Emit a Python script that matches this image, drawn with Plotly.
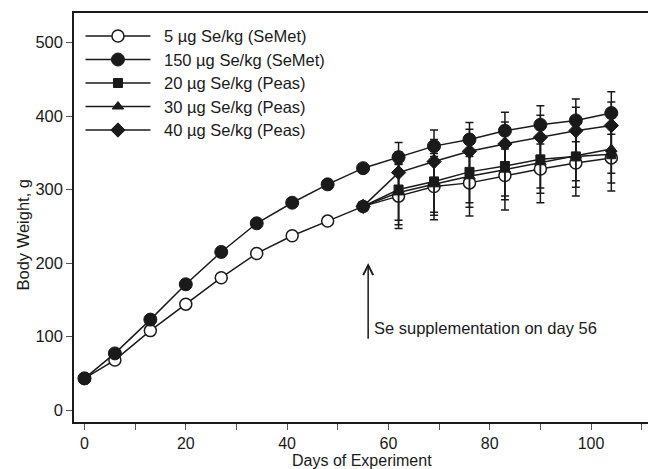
import plotly.graph_objects as go

# ---------------- data ----------------
days_pre = [0, 6, 13, 20, 27, 34, 41, 48, 55]
days_post = [62, 69, 76, 83, 90, 97, 104]
days_peas = [55] + days_post

semet5_pre = [43, 68, 108, 144, 180, 213, 237, 257, 277]
semet5_post = [291, 304, 309, 319, 328, 336, 343]
semet5_sd = [44, 45, 45, 47, 46, 45, 45]

semet150_pre = [43, 77, 123, 171, 215, 254, 282, 307, 329]
semet150_post = [344, 359, 368, 380, 388, 394, 404]
semet150_sd = [20, 22, 23, 25, 26, 29, 29]

peas20 = [277, 300, 311, 324, 332, 341, 345, 348]
peas20_sd = [0, 48, 46, 48, 46, 46, 42, 39]

peas30 = [277, 296, 307, 318, 327, 337, 346, 355]
peas30_sd = [0, 38, 38, 36, 36, 35, 34, 33]

peas40 = [277, 323, 338, 352, 362, 371, 380, 387]
peas40_sd = [0, 28, 30, 30, 30, 30, 32, 32]

names = ["5 µg Se/kg (SeMet)", "150 µg Se/kg (SeMet)", "20 µg Se/kg (Peas)",
         "30 µg Se/kg (Peas)", "40 µg Se/kg (Peas)"]

x_ticks = [0, 10, 20, 30, 40, 50, 60, 70, 80, 90, 100, 110]
x_ticktext = ["0", "", "20", "", "40", "", "60", "", "80", "", "100", ""]
y_ticks = [0, 100, 200, 300, 400, 500]

arrow_day = 56
arrow_from, arrow_to = 95, 200
note = "Se supplementation on day 56"

# ---------------- layout constants ----------------
W, H = 648, 469
L, R, T, B = 73.5, 648, 13, 422
FONT = "Liberation Sans, Arial, sans-serif"
FS = 16.5
INK = "#1a1a1a"

fig = go.Figure()

def err(sd):
    return dict(type="data", array=sd, visible=True, color=INK, thickness=1.5, width=4)

line = dict(color=INK, width=1.5)

semet5_all = semet5_pre + semet5_post
semet5_err = [0] * len(semet5_pre) + semet5_sd
semet150_all = semet150_pre + semet150_post
semet150_err = [0] * len(semet150_pre) + semet150_sd
days_all = days_pre + days_post

markers = {
    0: dict(symbol="circle", size=12, color="white", line=dict(color=INK, width=1.5)),
    1: dict(symbol="circle", size=13, color=INK, line=dict(color=INK, width=1)),
    2: dict(symbol="square", size=9, color=INK, line=dict(color=INK, width=1)),
    3: dict(symbol="triangle-up", size=10, color=INK, line=dict(color=INK, width=1)),
    4: dict(symbol="diamond", size=11, color=INK, line=dict(color=INK, width=1)),
}

fig.add_trace(go.Scatter(x=days_all, y=semet5_all, mode="lines+markers", name=names[0],
                         line=line, marker=markers[0], error_y=err(semet5_err), showlegend=False))
fig.add_trace(go.Scatter(x=days_peas, y=peas20, mode="lines+markers", name=names[2],
                         line=line, marker=markers[2], error_y=err(peas20_sd), showlegend=False))
fig.add_trace(go.Scatter(x=days_peas, y=peas30, mode="lines+markers", name=names[3],
                         line=line, marker=markers[3], error_y=err(peas30_sd), showlegend=False))
fig.add_trace(go.Scatter(x=days_peas, y=peas40, mode="lines+markers", name=names[4],
                         line=line, marker=markers[4], error_y=err(peas40_sd), showlegend=False))
fig.add_trace(go.Scatter(x=days_all, y=semet150_all, mode="lines+markers", name=names[1],
                         line=line, marker=markers[1], error_y=err(semet150_err), showlegend=False))

# ---------------- custom legend (overlay axes in pixel units) ----------------
pw, ph = R - L, B - T
rows_py = [36, 59.5, 83, 106.5, 130]
lx0, lx1, lmx, ltx = 85, 150, 117.5, 162
for i, py in enumerate(rows_py):
    yy = B - py
    fig.add_trace(go.Scatter(x=[lx0 - L, lx1 - L], y=[yy, yy], mode="lines", line=line,
                             xaxis="x2", yaxis="y2", showlegend=False, hoverinfo="skip"))
    fig.add_trace(go.Scatter(x=[lmx - L], y=[yy], mode="markers", marker=markers[i],
                             xaxis="x2", yaxis="y2", showlegend=False, hoverinfo="skip"))
    fig.add_annotation(x=ltx - L, y=yy, xref="x2", yref="y2", text=names[i], showarrow=False,
                       xanchor="left", yanchor="middle", font=dict(family=FONT, size=FS, color=INK))

# arrow + note
fig.add_annotation(x=arrow_day, y=arrow_to, ax=arrow_day, ay=arrow_from, xref="x", yref="y",
                   axref="x", ayref="y", text="", showarrow=True, arrowhead=5, arrowsize=1.3,
                   arrowwidth=1.5, arrowcolor=INK)
fig.add_annotation(x=arrow_day + 0.8, y=112, xref="x", yref="y", text=note, showarrow=False,
                   xanchor="left", yanchor="middle", font=dict(family=FONT, size=FS, color=INK))

# y title (paper coords are relative to the plot area)
fig.add_annotation(x=(22 - L) / pw, y=(B - 235) / ph, xref="paper", yref="paper",
                   text="Body Weight, g", textangle=-90, showarrow=False,
                   xanchor="center", yanchor="middle",
                   font=dict(family=FONT, size=FS, color=INK))
# x title
fig.add_annotation(x=(362 - L) / pw, y=-(460 - B) / ph, xref="paper", yref="paper",
                   text="Days of Experiment", showarrow=False,
                   xanchor="center", yanchor="middle",
                   font=dict(family=FONT, size=16, color=INK))

x_range = [(L - 84) / 5.07, (R - 84) / 5.07]
y_range = [-(B - 410) / 0.735, (410 - T) / 0.735]

fig.update_layout(
    width=W, height=H,
    margin=dict(l=L, r=W - R, t=T, b=H - B, pad=0),
    paper_bgcolor="white", plot_bgcolor="white",
    font=dict(family=FONT, size=FS, color=INK),
    xaxis=dict(range=x_range, tickvals=x_ticks, ticktext=x_ticktext, ticks="outside",
               ticklen=6, tickwidth=1, tickcolor="#555", showline=True, linecolor=INK,
               linewidth=1.5, mirror=True, showgrid=False, zeroline=False,
               tickfont=dict(size=16)),
    yaxis=dict(range=y_range, tickvals=y_ticks, ticks="outside", ticklen=6, tickwidth=1,
               tickcolor="#555", showline=True, linecolor=INK, linewidth=1.5, mirror=False,
               showgrid=False, zeroline=False, tickfont=dict(size=FS)),
    xaxis2=dict(range=[0, pw], overlaying="x", visible=False, fixedrange=True),
    yaxis2=dict(range=[0, ph], overlaying="y", visible=False, fixedrange=True),
    showlegend=False,
)

fig.write_html("out.html", config={"displayModeBar": False},
               post_script="document.body.style.margin='0';document.body.style.padding='0';")
